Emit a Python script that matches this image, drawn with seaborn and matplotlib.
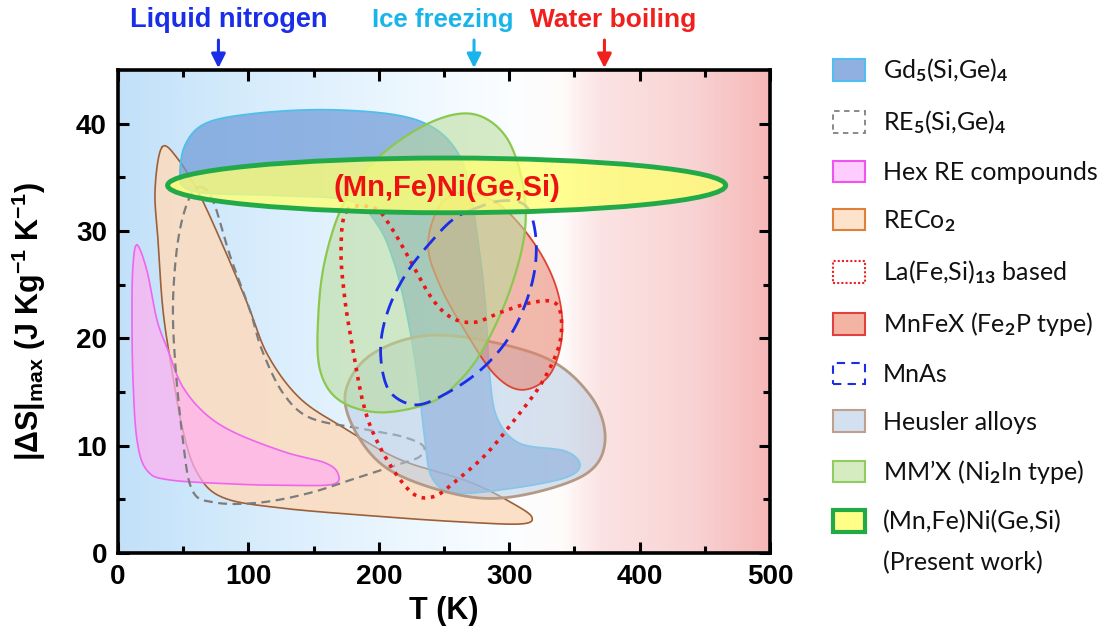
import numpy as np
import matplotlib
matplotlib.use("Agg")
import matplotlib.pyplot as plt
import seaborn as sns
from matplotlib.patches import Patch, Ellipse
from matplotlib.colors import LinearSegmentedColormap

# ---------------- data (T in K, |dS|max in J/kg/K) ----------------
# region outlines (control points, closed loops)
gd5_T = [47.5, 51.4, 66.7, 101.2, 154.9, 208.6, 239.3, 258.4, 268.4, 276, 281.4, 285.3, 291.4,
         308.3, 342.8, 354.3, 342.8, 300.6, 258.4, 240.8, 235.4, 230, 222.4, 212.4, 199.4, 178,
         124.2, 70.6, 51.4]
gd5_S = [35.2, 38.0, 40.0, 40.9, 41.3, 40.9, 39.8, 37.7, 34.7, 29.1, 23.5, 16.1, 12.4,
         10.2, 9.5, 8.2, 7.0, 6.0, 5.6, 7.0, 10.5, 16.1, 21.7, 26.8, 30.5, 32.8,
         33.3, 33.5, 34.0]

re5_T = [62.9, 72.9, 85.9, 101.2, 110.4, 126.5, 147.2, 185.6, 216.3, 233.9, 231.6, 216.3, 185.6,
         147.2, 108.9, 74.4, 56.7, 49.1, 43.7, 42.2, 46, 53.7]
re5_S = [34.1, 32.8, 27.7, 22.6, 18.9, 14.9, 12.6, 11.6, 10.9, 10.0, 9.0, 8.3, 7.1,
         5.6, 4.7, 4.7, 5.9, 11.2, 18.0, 23.5, 29.1, 32.8]

hex_T = [14.6, 22.2, 29.9, 38.3, 49.1, 66.7, 89.7, 128, 158.7, 168.7, 164.9, 131.9, 93.6,
         39.9, 22.2, 14.6, 11.5, 10.7, 11.5]
hex_S = [28.7, 26.3, 21.7, 18.9, 15.6, 13.0, 11.2, 9.4, 8.4, 7.4, 6.4, 6.3, 6.4,
         6.8, 7.7, 10.5, 16.1, 22.6, 26.8]

reco2_T = [33.7, 28.4, 30.7, 34.5, 41.4, 49.8, 60.6, 79.8, 124.2, 201, 262.3, 308.3, 317.5,
           304.4, 270, 216.3, 174, 139.6, 115, 99.7, 82, 62.9, 46]
reco2_S = [37.8, 33.8, 29.1, 22.6, 17.0, 11.4, 7.5, 5.2, 4.2, 3.4, 2.9, 2.7, 3.3,
           4.5, 6.6, 8.7, 11.6, 14.4, 18.4, 23.1, 28.2, 33.3, 36.7]

lafesi_T = [175.6, 197.1, 210.1, 223.9, 240.8, 256.1, 273.8, 292.9, 316, 333.6, 339.7, 338.2,
            325.2, 306, 283, 260, 243.1, 227.8, 212.4, 197.1, 187.9, 180.2, 174.1, 171]
lafesi_S = [31.9, 32.1, 30.2, 27.3, 23.7, 21.9, 21.5, 22.4, 23.3, 23.4, 22.1, 19.3,
            15.9, 12.7, 9.3, 6.8, 5.3, 5.4, 7.5, 10.8, 14.0, 18.9, 23.5, 28.2]

mnfex_T = [266, 293, 320, 336.7, 340.5, 331, 310, 289, 266, 247, 237.7, 247]
mnfex_S = [33.6, 32.4, 28.7, 24.5, 20.3, 16.6, 15.2, 16.6, 20.7, 24.9, 28.7, 32.4]

mnas_T = [270, 293, 312.1, 319.8, 319.8, 312.1, 298.3, 277.6, 252.3, 229.3, 210.9, 203.2,
          201.7, 208.6, 222.4, 240.8, 256.1]
mnas_S = [31.9, 32.8, 32.4, 30.0, 26.6, 23.1, 19.8, 17.0, 14.9, 13.8, 14.7, 16.7,
          19.8, 23.1, 26.3, 29.1, 31.0]

heusler_T = [246.9, 323.6, 362, 373.5, 358, 306, 262, 208.6, 181.7, 174.8, 197]
heusler_S = [20.3, 18.4, 14.7, 10.5, 7.3, 5.3, 5.4, 7.7, 11.4, 15.2, 18.7]

mmx_T = [272, 296.8, 309.8, 312, 300.6, 281.4, 262.3, 239.3, 201, 170, 155, 153.4, 158.7,
         174, 201, 239.3]
mmx_S = [40.9, 38.9, 34.7, 30.0, 24.5, 19.3, 16.1, 14.0, 13.1, 14.2, 17.0, 21.7, 27.3,
         32.8, 37.0, 40.1]

# present work: elliptical region
present_T_range = [38, 466]
present_S_range = [31.7, 36.8]

# reference temperatures
ref_labels = ["Liquid nitrogen", "Ice freezing", "Water boiling"]
ref_T = [77, 273, 373]
ref_colors = ["#1a2ee8", "#19b4ea", "#f0201c"]

legend_labels = ["Gd$_5$(Si,Ge)$_4$", "RE$_5$(Si,Ge)$_4$", "Hex RE compounds", "RECo$_2$",
                 "La(Fe,Si)$_{13}$ based", "MnFeX (Fe$_2$P type)", "MnAs", "Heusler alloys",
                 "MM\u2019X (Ni$_2$In type)", "(Mn,Fe)Ni(Ge,Si)"]

x_ticks = [0, 100, 200, 300, 400, 500]
y_ticks = [0, 10, 20, 30, 40]

# ---------------- style ----------------
sns.set_theme(style="ticks")
plt.rcParams["font.family"] = ["Liberation Sans", "DejaVu Sans"]
plt.rcParams["font.weight"] = "bold"
for key in ["text.color", "axes.labelcolor", "xtick.color", "ytick.color", "axes.edgecolor"]:
    plt.rcParams[key] = "black"
plt.rcParams["mathtext.fontset"] = "custom"
plt.rcParams["mathtext.rm"] = "Lato"
plt.rcParams["mathtext.it"] = "Lato:italic"
plt.rcParams["mathtext.bf"] = "Liberation Sans:bold"


def closed_curve(T, S, n=20):
    P = np.column_stack([T, S]).astype(float)
    m = len(P)
    t = np.linspace(0, 1, n, endpoint=False)[:, None]
    segs = []
    for i in range(m):
        p0, p1, p2, p3 = P[(i - 1) % m], P[i], P[(i + 1) % m], P[(i + 2) % m]
        seg = 0.5 * (2 * p1 + (-p0 + p2) * t + (2 * p0 - 5 * p1 + 4 * p2 - p3) * t ** 2
                     + (-p0 + 3 * p1 - 3 * p2 + p3) * t ** 3)
        segs.append(seg)
    out = np.vstack(segs + [P[:1]])
    return out[:, 0], out[:, 1]


fig = plt.figure(figsize=(11.08, 6.41), dpi=100)
ax = fig.add_axes([0.1065, 0.1373, 0.5885, 0.7535])

# background gradient
bg_cmap = LinearSegmentedColormap.from_list("bg", [
    (0.0, (0.76, 0.88, 0.975)),
    (0.2, (0.84, 0.925, 0.99)),
    (0.45, (0.93, 0.97, 1.0)),
    (0.6, (0.985, 0.995, 1.0)),
    (0.68, (1.0, 0.985, 0.985)),
    (0.74, (0.985, 0.89, 0.89)),
    (0.88, (0.975, 0.83, 0.83)),
    (1.0, (0.965, 0.72, 0.72))])
ax.imshow(np.linspace(0, 1, 500)[None, :], extent=(0, 500, 0, 45), aspect="auto",
          cmap=bg_cmap, zorder=0, interpolation="bilinear")

regions = [
    # T, S, face, alpha, edge, linestyle, lw, zorder
    (reco2_T, reco2_S, "#fcdcc0", 0.88, "#9c6038", "-", 1.2, 2),
    (hex_T, hex_S, "#ffb0f0", 0.72, "#ee66ee", "-", 1.2, 3),
    (gd5_T, gd5_S, "#6f9bd8", 0.72, "#4fbfea", "-", 1.3, 4),
    (re5_T, re5_S, None, 0, "#7c7c7c", (0, (4, 2.5)), 1.6, 5),
    (heusler_T, heusler_S, "#b8cce4", 0.55, "#b49a86", "-", 2.0, 6),
    (mnfex_T, mnfex_S, "#e8806a", 0.55, "#dd4433", "-", 1.3, 7),
    (mmx_T, mmx_S, "#b8dc98", 0.55, "#8cc850", "-", 1.6, 8),
    (lafesi_T, lafesi_S, None, 0, "#ee1515", (0, (1, 1.6)), 2.6, 9),
    (mnas_T, mnas_S, None, 0, "#1a2ee8", (0, (6, 3)), 2.0, 10),
]
for T, S, fc, al, ec, ls, lw, z in regions:
    cx, cy = closed_curve(T, S)
    if fc is not None:
        ax.fill(cx, cy, color=fc, alpha=al, lw=0, zorder=z)
    sns.lineplot(x=cx, y=cy, sort=False, estimator=None, ax=ax, color=ec,
                 linestyle=ls, lw=lw, zorder=z + 0.5, legend=False)

ell = Ellipse((np.mean(present_T_range), np.mean(present_S_range)),
              present_T_range[1] - present_T_range[0],
              present_S_range[1] - present_S_range[0],
              facecolor=(1.0, 1.0, 0.45, 0.78), edgecolor="#22aa48", lw=3.5, zorder=12)
ax.add_patch(ell)
ax.text(np.mean(present_T_range), np.mean(present_S_range) - 0.2, "(Mn,Fe)Ni(Ge,Si)",
        color="#ee1111", fontsize=21, fontweight="bold", ha="center", va="center", zorder=13)

# reference temperature annotations
for lab, t, c in zip(ref_labels, ref_T, ref_colors):
    ax.annotate("", xy=(t, 1.004), xycoords=("data", "axes fraction"),
                xytext=(t, 1.062), textcoords=("data", "axes fraction"),
                arrowprops=dict(arrowstyle="-|>,head_width=0.35,head_length=0.7",
                                color=c, lw=2.2, shrinkA=0, shrinkB=0),
                annotation_clip=False)
offsets = {"Liquid nitrogen": 8, "Ice freezing": -24, "Water boiling": 7}
sizes = {"Liquid nitrogen": 19.5, "Ice freezing": 18.5, "Water boiling": 19}
for lab, t, c in zip(ref_labels, ref_T, ref_colors):
    ax.text(t + offsets[lab], 1.104, lab, transform=ax.get_xaxis_transform(), color=c,
            fontsize=sizes[lab], fontweight="bold", ha="center", va="center", clip_on=False)

ax.set_xlim(0, 500)
ax.set_ylim(0, 45)
ax.set_xticks(x_ticks)
ax.set_yticks(y_ticks)
ax.set_xticks(np.arange(50, 500, 100), minor=True)
ax.set_yticks(np.arange(5, 45, 10), minor=True)
ax.tick_params(which="both", direction="in", top=True, right=True, width=2.2, color="black",
               labelcolor="black")
ax.tick_params(which="major", length=8, labelsize=20, pad=8)
ax.tick_params(which="minor", length=5)
for lbl in ax.get_xticklabels() + ax.get_yticklabels():
    lbl.set_fontweight("bold")
for sp in ax.spines.values():
    sp.set_linewidth(2.6)
    sp.set_color("black")
    sp.set_zorder(20)

ax.set_xlabel("T (K)", fontsize=22, fontweight="bold", color="black")
ax.set_ylabel(r"$\mathbf{|\Delta S|_{max}\ (J\ Kg^{-1}\ K^{-1})}$", fontsize=22, color="black")
ax.xaxis.set_label_coords(0.5, -0.09)
ax.yaxis.set_label_coords(-0.108, 0.48)

# legend
handles = [
    Patch(facecolor="#8fb0e0", edgecolor="#4fc0ee", lw=1.5),
    Patch(facecolor="none", edgecolor="#808080", lw=1.3, linestyle=(0, (3, 2.5))),
    Patch(facecolor="#ffccff", edgecolor="#ee55ee", lw=1.5),
    Patch(facecolor="#fde3cc", edgecolor="#e08038", lw=1.5),
    Patch(facecolor="none", edgecolor="#ee2222", lw=1.5, linestyle=(0, (1, 1))),
    Patch(facecolor="#f4b4a4", edgecolor="#e04040", lw=1.5),
    Patch(facecolor="none", edgecolor="#1a2ee8", lw=1.5, linestyle=(0, (4, 3))),
    Patch(facecolor="#d2e0f0", edgecolor="#c0a08c", lw=1.5),
    Patch(facecolor="#d5ebc0", edgecolor="#90cc60", lw=1.5),
    Patch(facecolor="#ffff88", edgecolor="#22aa48", lw=3),
]
leg = fig.legend(handles, legend_labels, loc="upper left", bbox_to_anchor=(0.752, 0.912),
                 frameon=False, prop={"family": "Lato", "weight": "normal", "size": 18},
                 handlelength=1.28, handleheight=0.96, handletextpad=0.72,
                 labelspacing=0.97, borderpad=0, borderaxespad=0)
for txt in leg.get_texts():
    txt.set_color("#111111")
fig.text(883 / 1108, 1 - 563 / 641, "(Present work)", family="Lato", fontweight="normal",
         fontsize=18, ha="left", va="center", color="#111111")

fig.savefig("out.png", dpi=100)
